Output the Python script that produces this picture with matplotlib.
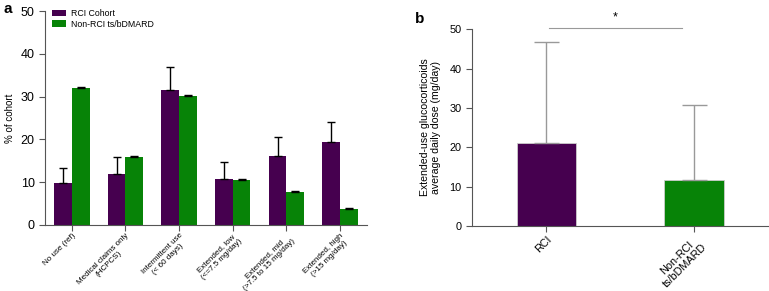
import numpy as np
import matplotlib.pyplot as plt

plt.rcParams['font.family'] = ['Liberation Sans', 'DejaVu Sans']

# Panel a data
kategorien = ['No use (ref)', 'Medical claims only\n(HCPCS)', 'Intermittent use\n(< 60 days)',
              'Extended, low\n(<=7.5 mg/day)', 'Extended, mid\n(>7.5 to 15 mg/day)',
              'Extended, high\n(>15 mg/day)']
rci_werte = [9.7, 11.9, 31.6, 10.8, 16.2, 19.4]
rci_fehler = [3.6, 3.9, 5.3, 3.8, 4.4, 4.6]
non_rci_werte = [32.0, 15.8, 30.2, 10.5, 7.8, 3.7]
non_rci_fehler = [0.2, 0.2, 0.2, 0.2, 0.2, 0.15]

# Panel b data
gruppen_b = ['RCI', 'Non-RCI\nts/bDMARD']
dosis_werte = [21.1, 11.6]
dosis_fehler = [25.7, 19.1]

lila = '#46004f'
gruen = '#078307'
achse = '#555555'

fig = plt.figure(figsize=(7.69, 2.91), dpi=100)

# ---- Panel a
ax1 = fig.add_axes([0.0585, 0.227, 0.4185, 0.735])
xs = np.arange(len(kategorien))
b = 0.33
ax1.bar(xs - b / 2, rci_werte, b, color=lila, label='RCI Cohort')
ax1.bar(xs + b / 2, non_rci_werte, b, color=gruen, label='Non-RCI ts/bDMARD')
ax1.errorbar(xs - b / 2, rci_werte, yerr=[np.zeros(6), rci_fehler], fmt='none',
             ecolor='black', elinewidth=1, capsize=3.2, capthick=1)
ax1.errorbar(xs + b / 2, non_rci_werte, yerr=[np.zeros(6), non_rci_fehler], fmt='none',
             ecolor='black', elinewidth=1, capsize=3.2, capthick=1)
ax1.set_xlim(-0.5, 5.5)
ax1.set_ylim(0, 50)
ax1.set_yticks(np.arange(0, 51, 10))
ax1.set_xticks(xs)
ax1.set_xticklabels(kategorien, rotation=45, ha='right', rotation_mode='anchor',
                    multialignment='center', fontsize=5.8, linespacing=1.1)
ax1.tick_params(axis='y', labelsize=9, colors=achse, labelcolor='black', length=4)
ax1.tick_params(axis='x', colors=achse, labelcolor='black', length=4, pad=1)
ax1.set_ylabel('% of cohort', fontsize=7)
for s in ['top', 'right']:
    ax1.spines[s].set_visible(False)
for s in ['left', 'bottom']:
    ax1.spines[s].set_color(achse)
ax1.legend(loc='upper left', bbox_to_anchor=(0.01, 1.025), frameon=False, fontsize=6.3,
           handlelength=1.6, handleheight=0.7, labelspacing=0.15, borderaxespad=0,
           handletextpad=0.6)
fig.text(0.005, 0.955, 'a', fontsize=11, fontweight='bold')

# ---- Panel b
ax2 = fig.add_axes([0.614, 0.223, 0.3847, 0.677])
xb = np.arange(len(gruppen_b))
ax2.bar(xb, dosis_werte, 0.4, color=[lila, gruen], edgecolor='#cccccc', linewidth=0.6)
ax2.errorbar(xb, dosis_werte, yerr=[np.zeros(2), dosis_fehler], fmt='none',
             ecolor='#999999', elinewidth=1, capsize=9, capthick=1)
ax2.set_xlim(-0.5, 1.5)
ax2.set_ylim(0, 50)
ax2.set_yticks(np.arange(0, 51, 10))
ax2.set_xticks(xb)
ax2.set_xticklabels(gruppen_b, rotation=45, ha='right', rotation_mode='anchor',
                    multialignment='center', fontsize=7.8, linespacing=1.1)
ax2.tick_params(axis='both', labelsize=7.8, colors=achse, labelcolor='black', length=4)
ax2.tick_params(axis='x', pad=2)
ax2.set_ylabel('Extended-use glucocorticoids\naverage daily dose (mg/day)', fontsize=7.6,
               labelpad=6)
for s in ['top', 'right']:
    ax2.spines[s].set_visible(False)
for s in ['left', 'bottom']:
    ax2.spines[s].set_color(achse)
ax2.plot([0.02, 0.92], [50.3, 50.3], color='#999999', lw=0.8, clip_on=False)
ax2.text(0.47, 51.5, '*', ha='center', va='bottom', fontsize=9, clip_on=False)
fig.text(0.54, 0.96, 'b', fontsize=11, fontweight='bold', va='top')

fig.savefig('out.png', dpi=100)
